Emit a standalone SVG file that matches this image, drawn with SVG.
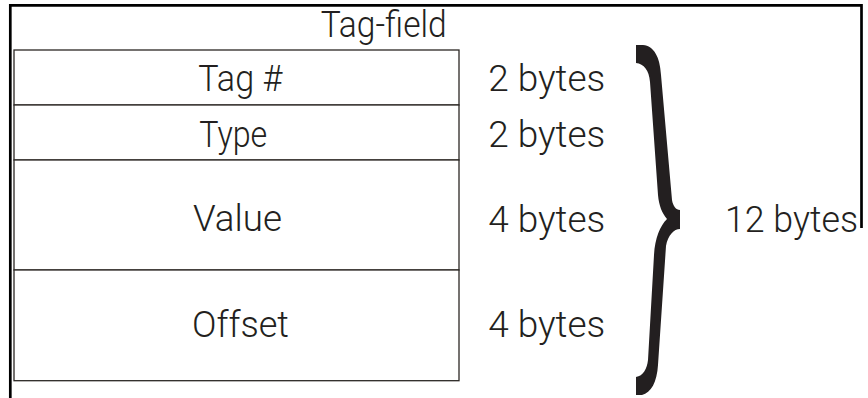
<svg xmlns="http://www.w3.org/2000/svg" width="868" height="398" viewBox="0 0 868 398">
  <style>
    .frame { stroke: #000; stroke-width: 2.7; fill: none; }
    .cell { fill: #fff; stroke: #2b2724; stroke-width: 1.3; }
    .lbl { font-family: Roboto, "Liberation Sans", sans-serif; font-weight: 300; font-size: 36.5px; fill: #231f20; }
    .brace { fill: #231f20; }
  </style>
  <rect width="868" height="398" fill="#fff"/>

  <!-- outer frame -->
  <g id="frame">
    <line class="frame" x1="10" y1="5.3" x2="862" y2="5.3"/>
    <line class="frame" x1="10.3" y1="4" x2="10.3" y2="398"/>
    <line class="frame" x1="861.5" y1="4" x2="861.5" y2="228"/>
  </g>

  <!-- record layout -->
  <g id="title">
    <text class="lbl" x="320.7" y="36.5" textLength="126" lengthAdjust="spacingAndGlyphs">Tag-field</text>
  </g>
  <g id="tag">
    <rect class="cell" x="14" y="50" width="445" height="55"/>
    <text class="lbl" x="198.3" y="90.5" textLength="84" lengthAdjust="spacingAndGlyphs">Tag #</text>
  </g>
  <g id="type">
    <rect class="cell" x="14" y="105" width="445" height="55"/>
    <text class="lbl" x="199.3" y="146.5" textLength="68" lengthAdjust="spacingAndGlyphs">Type</text>
  </g>
  <g id="value">
    <rect class="cell" x="14" y="160" width="445" height="110"/>
    <text class="lbl" x="193" y="231" textLength="89" lengthAdjust="spacingAndGlyphs">Value</text>
  </g>
  <g id="offset">
    <rect class="cell" x="14" y="270" width="445" height="110.7"/>
    <text class="lbl" x="192" y="337" textLength="97" lengthAdjust="spacingAndGlyphs">Offset</text>
  </g>

  <!-- field sizes -->
  <g id="sizes">
    <text class="lbl" x="488.3" y="91" textLength="117" lengthAdjust="spacingAndGlyphs">2 bytes</text>
    <text class="lbl" x="488.3" y="146.5" textLength="117" lengthAdjust="spacingAndGlyphs">2 bytes</text>
    <text class="lbl" x="488.3" y="231.5" textLength="117" lengthAdjust="spacingAndGlyphs">4 bytes</text>
    <text class="lbl" x="488.3" y="337" textLength="117" lengthAdjust="spacingAndGlyphs">4 bytes</text>
  </g>

  <!-- total brace -->
  <g id="total">
    <path class="brace" d="M 636 45 L 643 45 C 654 46 660 57 661 75 L 672 200 C 673 206 676 210 680 210 L 680 229 C 674 229 668 235 666 246 L 658 365 C 657 382 651 393 642 395 L 636 395 L 636 377 C 643 376 647 369 648 360 L 654 255 C 655 238 660 226 667 219 C 662 213 659 206 658 195 L 650 82 C 649 70 644 64 636 63 Z"/>
    <text class="lbl" x="725" y="231.5" textLength="133" lengthAdjust="spacingAndGlyphs">12 bytes</text>
  </g>
</svg>
